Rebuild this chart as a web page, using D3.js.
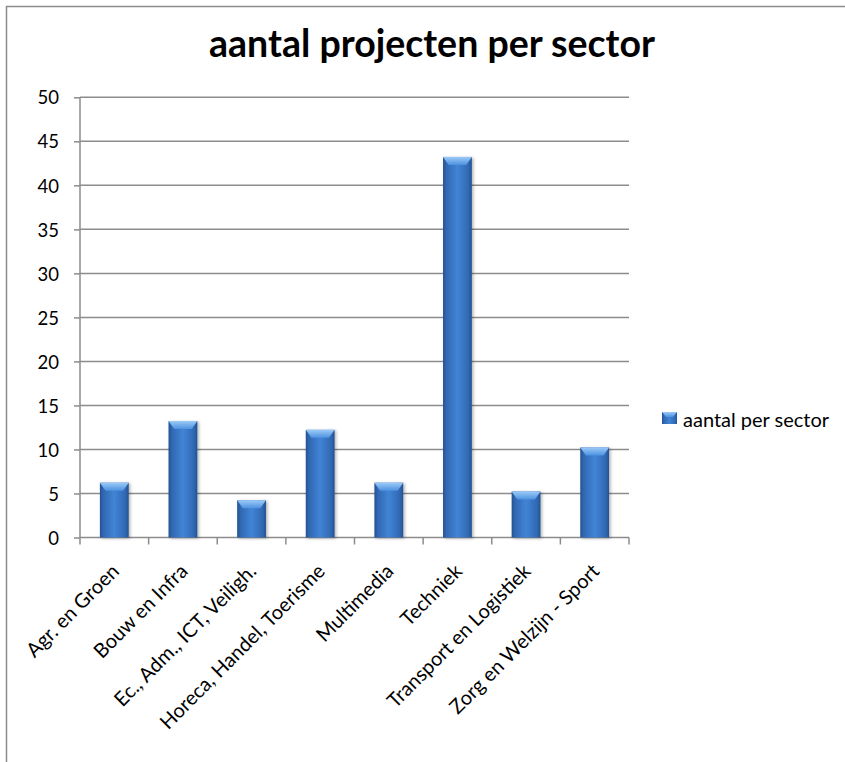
<!DOCTYPE html>
<html>
<head>
<meta charset="utf-8">
<script src="https://cdn.jsdelivr.net/npm/d3@7"></script>
<style>
  body { margin: 0; background: #fff; }
  text { font-family: Lato, "Open Sans", sans-serif; fill: #000; }
</style>
</head>
<body>
<svg id="chart" width="845" height="762"></svg>
<script>
// data
const sectors = ["Agr. en Groen", "Bouw en Infra", "Ec., Adm., ICT, Veiligh.",
  "Horeca, Handel, Toerisme", "Multimedia", "Techniek",
  "Transport en Logistiek", "Zorg en Welzijn - Sport"];
const counts = [6, 13, 4, 12, 6, 43, 5, 10];
const yTicks = [0, 5, 10, 15, 20, 25, 30, 35, 40, 45, 50];
const title = "aantal projecten per sector";
const seriesName = "aantal per sector";

const data = sectors.map((s, i) => ({ sector: s, value: counts[i] }));

const svg = d3.select("#chart");

// outer frame (only top and left edge are visible)
svg.append("rect")
  .attr("x", 6.5).attr("y", 6.5)
  .attr("width", 900).attr("height", 900)
  .attr("fill", "#fff")
  .attr("stroke", "#8c8c8c")
  .attr("stroke-width", 1.5);

const defs = svg.append("defs");
const barGrad = defs.append("linearGradient").attr("id", "barGrad")
  .attr("x1", "0%").attr("x2", "100%").attr("y1", "0%").attr("y2", "0%");
[[0, "#24528f"], [0.12, "#3168b3"], [0.5, "#4184d6"], [0.88, "#3168b3"], [1, "#24528f"]]
  .forEach(s => barGrad.append("stop").attr("offset", s[0]).attr("stop-color", s[1]));
const topGrad = defs.append("linearGradient").attr("id", "topGrad")
  .attr("x1", "0%").attr("x2", "0%").attr("y1", "0%").attr("y2", "100%");
[[0, "#9ccaf7"], [1, "#4d92e0"]]
  .forEach(s => topGrad.append("stop").attr("offset", s[0]).attr("stop-color", s[1]));
defs.append("filter").attr("id", "shadow")
  .attr("x", "-20%").attr("y", "-5%").attr("width", "150%").attr("height", "115%")
  .append("feDropShadow")
  .attr("dx", 1.5).attr("dy", 1).attr("stdDeviation", 1.5)
  .attr("flood-color", "#000").attr("flood-opacity", 0.3);

const x = d3.scaleBand()
  .domain(sectors)
  .range([80, 629])
  .paddingInner(0.58)
  .paddingOuter(0.29);

const y = d3.scaleLinear()
  .domain([0, 50])
  .range([537.5, 97.3]);

// gridlines
svg.append("g")
  .selectAll("line")
  .data(yTicks.slice(1))
  .join("line")
  .attr("x1", 80).attr("x2", 629)
  .attr("y1", d => y(d)).attr("y2", d => y(d))
  .attr("stroke", "#8c8c8c")
  .attr("stroke-width", 1.5);

// y axis
const yAxis = d3.axisLeft(y).tickValues(yTicks).tickSize(6).tickPadding(15);
const gy = svg.append("g").attr("transform", "translate(80,0)").call(yAxis);
gy.select(".domain").attr("stroke", "#8c8c8c").attr("stroke-width", 1.5)
  .attr("d", `M0,${y(0)}V${y(50)}`);
gy.selectAll(".tick line").attr("stroke", "#8c8c8c").attr("stroke-width", 1.5);
gy.selectAll(".tick text").attr("font-size", 18.5).attr("font-family", "Lato").attr("fill", "#000")
  .attr("dy", "0.36em");

// x axis: ticks between categories
const bounds = d3.range(sectors.length + 1).map(i => 80 + i * x.step());
svg.append("line")
  .attr("x1", 80).attr("x2", 629)
  .attr("y1", y(0)).attr("y2", y(0))
  .attr("stroke", "#8c8c8c").attr("stroke-width", 1.5);
svg.append("g").selectAll("line")
  .data(bounds)
  .join("line")
  .attr("x1", d => d).attr("x2", d => d)
  .attr("y1", y(0)).attr("y2", y(0) + 7)
  .attr("stroke", "#8c8c8c").attr("stroke-width", 1.5);

svg.append("g").selectAll("text")
  .data(sectors)
  .join("text")
  .attr("transform", d => `translate(${x(d) + x.bandwidth() / 2 + 6},${y(0) + 35}) rotate(-45)`)
  .attr("text-anchor", "end")
  .attr("font-size", 20)
  .text(d => d);

// bars
const bars = svg.append("g").selectAll("g")
  .data(data)
  .join("g")
  .attr("filter", "url(#shadow)");

bars.append("rect")
  .attr("x", d => x(d.sector))
  .attr("y", d => y(d.value) - 2)
  .attr("width", x.bandwidth())
  .attr("height", d => y(0) - y(d.value) + 2)
  .attr("fill", "url(#barGrad)");

const bevel = 8;
bars.append("path")
  .attr("d", d => {
    const x0 = x(d.sector), x1 = x0 + x.bandwidth(), t = y(d.value) - 2;
    return `M${x0},${t}L${x1},${t}L${x1 - bevel * 0.7},${t + bevel}L${x0 + bevel * 0.7},${t + bevel}Z`;
  })
  .attr("fill", "url(#topGrad)");

// title
svg.append("text")
  .attr("x", 432).attr("y", 57)
  .attr("text-anchor", "middle")
  .attr("font-size", 37.5)
  .attr("font-weight", "bold")
  .text(title);

// legend
const legend = svg.append("g").attr("transform", "translate(662,412)");
legend.append("rect")
  .attr("width", 15).attr("height", 12)
  .attr("fill", "url(#barGrad)");
legend.append("path")
  .attr("d", "M0,0L15,0L11,5L4,5Z")
  .attr("fill", "url(#topGrad)");
legend.append("text")
  .attr("x", 21).attr("y", 15)
  .attr("font-size", 20)
  .text(seriesName);
</script>
</body>
</html>
